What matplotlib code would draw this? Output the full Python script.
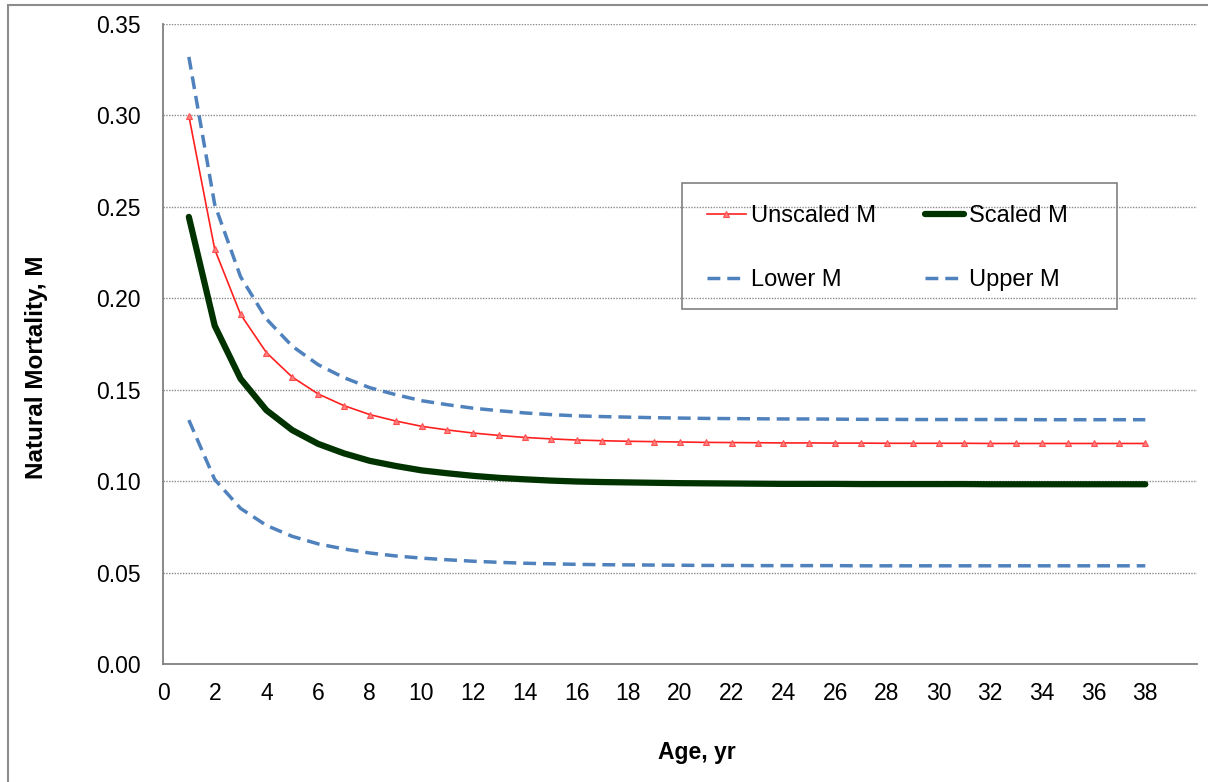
import numpy as np
import matplotlib
matplotlib.use("Agg")
import matplotlib.pyplot as plt
from matplotlib.patches import Rectangle

plt.rcParams['font.family'] = ['Liberation Sans', 'DejaVu Sans']

# natural mortality by age
ages = list(range(1, 39))
unscaled_m = [0.2998, 0.2268, 0.1912, 0.1703, 0.1569, 0.1477, 0.1413, 0.1364,
              0.1329, 0.1300, 0.1280, 0.1263, 0.1250, 0.1239, 0.1231, 0.1225,
              0.1221, 0.1218, 0.1216, 0.1214, 0.1212, 0.1211, 0.1210, 0.1209,
              0.1209, 0.1208, 0.1208, 0.1207, 0.1207, 0.1207, 0.1207, 0.1206,
              0.1206, 0.1206, 0.1206, 0.1206, 0.1206, 0.1206]
scaled_m = [0.2445, 0.1850, 0.1560, 0.1388, 0.1279, 0.1204, 0.1152, 0.1111,
            0.1083, 0.1059, 0.1043, 0.1029, 0.1018, 0.1010, 0.1003, 0.0998,
            0.0995, 0.0993, 0.0991, 0.0989, 0.0988, 0.0987, 0.0986, 0.0985,
            0.0985, 0.0985, 0.0984, 0.0984, 0.0984, 0.0984, 0.0984, 0.0983,
            0.0983, 0.0983, 0.0983, 0.0983, 0.0983, 0.0983]
lower_m = [0.1334, 0.1009, 0.0851, 0.0758, 0.0698, 0.0657, 0.0629, 0.0607,
           0.0591, 0.0579, 0.0570, 0.0562, 0.0556, 0.0551, 0.0548, 0.0545,
           0.0543, 0.0542, 0.0541, 0.0540, 0.0539, 0.0539, 0.0538, 0.0538,
           0.0538, 0.0538, 0.0537, 0.0537, 0.0537, 0.0537, 0.0537, 0.0537,
           0.0537, 0.0537, 0.0537, 0.0537, 0.0537, 0.0537]
upper_m = [0.3320, 0.2513, 0.2118, 0.1887, 0.1738, 0.1637, 0.1566, 0.1511,
           0.1473, 0.1440, 0.1418, 0.1399, 0.1385, 0.1373, 0.1364, 0.1357,
           0.1353, 0.1350, 0.1347, 0.1345, 0.1343, 0.1342, 0.1341, 0.1340,
           0.1340, 0.1339, 0.1338, 0.1338, 0.1337, 0.1337, 0.1337, 0.1337,
           0.1337, 0.1336, 0.1336, 0.1336, 0.1336, 0.1336]

x_ticks = list(range(0, 39, 2))
y_ticks = [0.00, 0.05, 0.10, 0.15, 0.20, 0.25, 0.30, 0.35]

W, H = 1208, 782
fig = plt.figure(figsize=(W / 100, H / 100), dpi=100)
ax = fig.add_axes([163 / W, 1 - 664 / H, (1197 - 163) / W, (664 - 24) / H])

blue = '#4F81BD'
dash = (3.7, 2.0)
l_up, = ax.plot(ages, upper_m, color=blue, lw=2.5, dashes=dash, label='Upper M')
l_lo, = ax.plot(ages, lower_m, color=blue, lw=2.5, dashes=dash, label='Lower M')
l_sc, = ax.plot(ages, scaled_m, color='#003300', lw=4.5, solid_capstyle='round',
                label='Scaled M')
l_un, = ax.plot(ages, unscaled_m, color='#FF2020', lw=1.2, marker='^', ms=4,
                mfc='#FF8080', mec='#FF5050', mew=0.8, label='Unscaled M')

ax.set_xlim(0, 40)
ax.set_ylim(0, 0.35)
ax.set_xticks(x_ticks)
ax.set_yticks(y_ticks)
ax.set_yticklabels([f'{v:.2f}' for v in y_ticks])
ax.tick_params(length=0, labelsize=16.5)
ax.tick_params(axis='y', pad=16)
ax.tick_params(axis='x', pad=13)

for v in y_ticks[1:]:
    ax.axhline(v, color='#8c8c8c', lw=1.0, ls=(0, (1, 1)), zorder=0)

for s in ['top', 'right']:
    ax.spines[s].set_visible(False)
for s in ['left', 'bottom']:
    ax.spines[s].set_color('#808080')
    ax.spines[s].set_linewidth(1.3)

fig.text(697 / W, 1 - 752 / H, 'Age, yr', ha='center', va='center',
         fontsize=16.5, fontweight='bold')
fig.text(37 / W, 1 - 367 / H, 'Natural Mortality, M', ha='center', va='center',
         rotation=90, fontsize=17.5, fontweight='bold')

leg = fig.legend([l_un, l_lo, l_sc, l_up],
                 ['Unscaled M', 'Lower M', 'Scaled M', 'Upper M'],
                 ncol=2, loc='upper left', frameon=False,
                 bbox_to_anchor=(707 / W, 1 - 205 / H), borderpad=0,
                 borderaxespad=0, fontsize=17, handlelength=1.65,
                 handletextpad=0.2, columnspacing=2.1, labelspacing=1.78)

# legend box and outer chart border
fig.patches.append(Rectangle((682 / W, 1 - 309 / H), (1117 - 682) / W,
                             (309 - 183) / H, transform=fig.transFigure,
                             fill=False, edgecolor='#808080', lw=1.2))
fig.patches.append(Rectangle((8 / W, -0.05), 1.1, 1.05 - 5 / H,
                             transform=fig.transFigure, fill=False,
                             edgecolor='#8c8c8c', lw=1.5))

fig.savefig('out.png', dpi=100)
